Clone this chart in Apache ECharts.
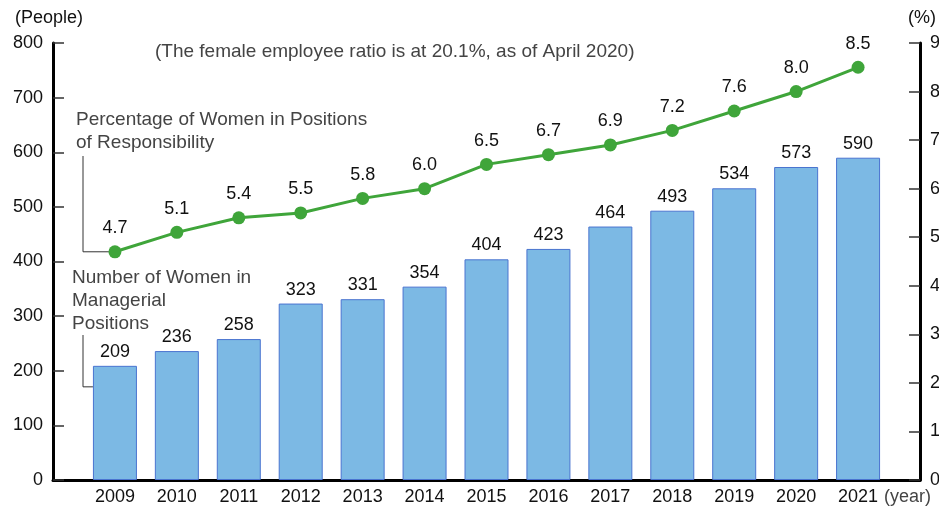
<!DOCTYPE html>
<html>
<head>
<meta charset="utf-8">
<script src="https://cdn.jsdelivr.net/npm/echarts@6/dist/echarts.min.js"></script>
<style>
  html, body { margin: 0; padding: 0; background: #fff; }
  #chart { width: 939px; height: 506px; }
</style>
</head>
<body>
<div id="chart"></div>
<script>
const years = [2009, 2010, 2011, 2012, 2013, 2014, 2015, 2016, 2017, 2018, 2019, 2020, 2021]
const managers = [209, 236, 258, 323, 331, 354, 404, 423, 464, 493, 534, 573, 590]
const womenRatio = [4.7, 5.1, 5.4, 5.5, 5.8, 6.0, 6.5, 6.7, 6.9, 7.2, 7.6, 8.0, 8.5]

const FONT = '"Liberation Sans", Arial, Helvetica, sans-serif'
const BAR_W = 44
const NUM_SIZE = 18

const chart = echarts.init(document.getElementById('chart'))

const option = {
  animation: false,
  textStyle: { fontFamily: FONT },
  grid: { left: 53, right: 19, top: 43, bottom: 26, outerBoundsMode: 'none' },
  xAxis: {
    type: 'value',
    min: years[0] - 1,
    max: years[years.length - 1] + 1,
    interval: 1,
    axisLine: { lineStyle: { color: '#000', width: 3 } },
    axisTick: { show: false },
    splitLine: { show: false },
    axisLabel: {
      color: '#111',
      fontSize: NUM_SIZE,
      margin: 8,
      formatter: (v) => (years.includes(v) ? String(v) : '')
    }
  },
  yAxis: [
    {
      type: 'value',
      min: 0,
      max: 800,
      interval: 100,
      name: '(People)',
      nameLocation: 'end',
      nameGap: 16,
      nameTextStyle: { color: '#111', fontSize: NUM_SIZE, align: 'center', padding: [0, 8, 0, 0] },
      axisLine: { show: true, lineStyle: { color: '#000', width: 3 } },
      axisTick: { show: true, inside: true, length: 11, lineStyle: { color: '#333', width: 1.5 } },
      splitLine: { show: false },
      axisLabel: { color: '#111', fontSize: NUM_SIZE, margin: 10 }
    },
    {
      type: 'value',
      min: 0,
      max: 9,
      interval: 1,
      position: 'right',
      name: '(%)',
      nameLocation: 'end',
      nameGap: 16,
      nameTextStyle: { color: '#111', fontSize: NUM_SIZE, align: 'center', padding: [0, 0, 0, 4] },
      axisLine: { show: true, lineStyle: { color: '#000', width: 3 } },
      axisTick: { show: true, inside: true, length: 11, lineStyle: { color: '#333', width: 1.5 } },
      splitLine: { show: false },
      axisLabel: { color: '#111', fontSize: NUM_SIZE, margin: 10 }
    }
  ],
  series: [
    {
      name: 'Number of Women in Managerial Positions',
      type: 'bar',
      yAxisIndex: 0,
      barWidth: BAR_W,
      itemStyle: { color: '#7cb9e4', borderColor: '#4a74d0', borderWidth: 1 },
      label: { show: true, position: 'top', distance: 5, color: '#111', fontSize: NUM_SIZE },
      data: years.map((y, i) => [y, managers[i]])
    },
    {
      name: 'Percentage of Women in Positions of Responsibility',
      type: 'line',
      yAxisIndex: 1,
      symbol: 'circle',
      symbolSize: 13,
      lineStyle: { color: '#3fa53a', width: 3 },
      itemStyle: { color: '#3fa53a' },
      label: {
        show: true,
        position: 'top',
        distance: 8,
        color: '#111',
        fontSize: NUM_SIZE,
        formatter: ({ value }) => value[1].toFixed(1)
      },
      z: 5,
      data: years.map((y, i) => [y, womenRatio[i]])
    }
  ]
}

chart.setOption(option)

// annotations and leader lines, placed from the chart's own scales
const dot = chart.convertToPixel({ xAxisIndex: 0, yAxisIndex: 1 }, [years[0], womenRatio[0]])
const barTop = chart.convertToPixel({ xAxisIndex: 0, yAxisIndex: 0 }, [years[0], managers[0]])
const barLeft = barTop[0] - BAR_W / 2
const lx = 83
const barMidY = barTop[1] + 21

const noteStyle = { fill: '#444', font: '19px ' + FONT, lineHeight: 23 }

chart.setOption({
  graphic: [
    {
      type: 'text',
      left: 155,
      top: 40,
      style: Object.assign({ text: '(The female employee ratio is at 20.1%, as of April 2020)' }, noteStyle)
    },
    {
      type: 'text',
      left: 76,
      top: 108,
      style: Object.assign({ text: 'Percentage of Women in Positions\nof Responsibility' }, noteStyle)
    },
    {
      type: 'text',
      left: 72,
      top: 266,
      style: Object.assign({ text: 'Number of Women in\nManagerial\nPositions' }, noteStyle)
    },
    {
      type: 'polyline',
      shape: { points: [[lx, 156], [lx, dot[1]], [dot[0] - 6, dot[1]]] },
      style: { stroke: '#333', lineWidth: 1, fill: null }
    },
    {
      type: 'polyline',
      shape: { points: [[lx, 335], [lx, barMidY], [barLeft, barMidY]] },
      style: { stroke: '#333', lineWidth: 1, fill: null }
    },
    {
      type: 'text',
      left: 884,
      top: 486,
      style: Object.assign({ text: '(year)' }, noteStyle, { font: '18px ' + FONT })
    }
  ]
})
</script>
</body>
</html>
